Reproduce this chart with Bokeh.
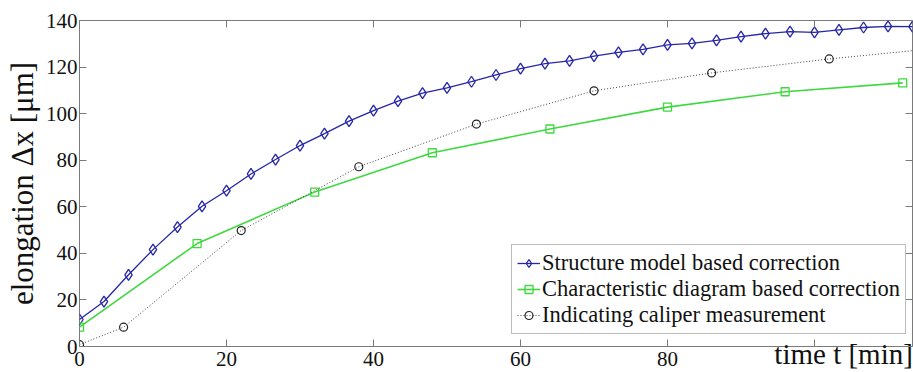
from bokeh.plotting import figure
from bokeh.models import Range1d, LinearAxis, FixedTicker, Legend, LegendItem
from bokeh.embed import file_html
from bokeh.resources import INLINE

# ---- data ----
struct_x = [0, 3.33, 6.67, 10, 13.33, 16.67, 20, 23.33, 26.67, 30, 33.33, 36.67,
            40, 43.33, 46.67, 50, 53.33, 56.67, 60, 63.33, 66.67, 70, 73.33, 76.67,
            80, 83.33, 86.67, 90, 93.33, 96.67, 100, 103.33, 106.67, 110, 113.33]
struct_y = [11.6, 19.3, 30.8, 41.6, 51.3, 60.2, 66.9, 74.1, 80.3, 86.3, 91.4, 96.8,
            101.3, 105.4, 108.8, 111.1, 113.7, 116.6, 119.3, 121.5, 122.7, 124.7, 126.3, 127.6,
            129.5, 130.2, 131.5, 133.1, 134.4, 135.2, 134.9, 136.0, 137.0, 137.5, 137.4]

charac_x = [0, 16, 32, 48, 64, 80, 96, 112]
charac_y = [8.3, 44.2, 66.3, 83.2, 93.4, 102.8, 109.4, 113.2]

caliper_x = [0, 6, 22, 38, 54, 70, 86, 102, 118]
caliper_y = [0.8, 8.3, 49.8, 77.2, 95.5, 109.8, 117.5, 123.5, 128.5]

x_ticks = [0, 20, 40, 60, 80, 100]
y_ticks = [0, 20, 40, 60, 80, 100, 120, 140]

labels = ["Structure model based correction",
          "Characteristic diagram based correction",
          "Indicating caliper measurement"]
x_title = "time t [min]"
y_title = "elongation Δx [μm]"

FONT = "Liberation Serif"
AXC = "#7a7a7a"
BLUE = "#2626a8"
GREEN = "#3fd83f"
DOT = "#444444"
TXT = "#111111"

p = figure(width=913, height=372, x_range=Range1d(0, 113.33), y_range=Range1d(0, 140),
           output_backend="svg", toolbar_location=None,
           min_border_left=79, min_border_top=20, min_border_right=1, min_border_bottom=0)
p.grid.visible = False
p.outline_line_color = AXC
p.outline_line_width = 1
p.background_fill_color = "white"
p.border_fill_color = "white"


def style(ax):
    ax.axis_line_color = None
    ax.major_tick_line_color = AXC
    ax.minor_tick_line_color = None
    ax.major_tick_in = 7
    ax.major_tick_out = 0
    ax.major_label_text_font = FONT
    ax.major_label_text_color = TXT
    ax.major_label_text_font_size = "21px"


xa = p.xaxis[0]
xa.ticker = FixedTicker(ticks=x_ticks)
xa.major_label_overrides = {100: ""}
style(xa)
xa.major_label_standoff = 5
# the axis title sits at the right end of the axis, level with the tick labels;
# its anchor is the axis end, so it is padded with no-break spaces to end inside
xa.axis_label = x_title + "\u00a0" * 19
xa.axis_label_text_font = FONT
xa.axis_label_text_font_style = "normal"
xa.axis_label_text_font_size = "29px"
xa.axis_label_text_color = TXT
xa.axis_label_standoff = -31
try:
    xa.axis_label_align = "end"
except Exception:
    pass

ya = p.yaxis[0]
ya.ticker = FixedTicker(ticks=y_ticks)
style(ya)
ya.major_label_standoff = 2
ya.axis_label = y_title
ya.axis_label_text_font = FONT
ya.axis_label_text_font_style = "normal"
ya.axis_label_text_font_size = "31px"
ya.axis_label_text_color = TXT
ya.axis_label_standoff = 3

for side in ("above", "right"):
    ax = LinearAxis(ticker=FixedTicker(ticks=x_ticks if side == "above" else y_ticks))
    style(ax)
    ax.major_label_text_font_size = "1px"
    ax.major_label_text_color = None
    ax.major_label_standoff = 0
    p.add_layout(ax, side)

# ---- series ----
l1 = p.line(struct_x, struct_y, line_color=BLUE, line_width=1.3)
s1 = p.scatter(struct_x, struct_y, marker="diamond", size=11, line_color=BLUE,
               fill_color=None, line_width=1.3)
l2 = p.line(charac_x, charac_y, line_color=GREEN, line_width=1.6)
s2 = p.scatter(charac_x, charac_y, marker="square", size=8, line_color=GREEN,
               fill_color=None, line_width=1.3)
l3 = p.line(caliper_x, caliper_y, line_color=DOT, line_width=1, line_dash="1 2")
s3 = p.scatter(caliper_x, caliper_y, marker="circle", size=8, line_color="#222222",
               fill_color=None, line_width=1.2)

legend = Legend(items=[LegendItem(label=labels[0], renderers=[l1, s1]),
                       LegendItem(label=labels[1], renderers=[l2, s2]),
                       LegendItem(label=labels[2], renderers=[l3, s3])],
                location=(432, 12))
legend.label_text_font = FONT
legend.label_text_font_size = "22.5px"
legend.label_text_color = TXT
legend.label_height = 25
legend.glyph_height = 20
legend.glyph_width = 23
legend.label_standoff = 2
legend.spacing = 0
legend.padding = 5
legend.margin = 0
legend.border_line_color = AXC
legend.border_line_width = 1
legend.background_fill_color = "white"
legend.background_fill_alpha = 1
p.add_layout(legend)

open("out.html", "w").write(file_html(p, INLINE))
